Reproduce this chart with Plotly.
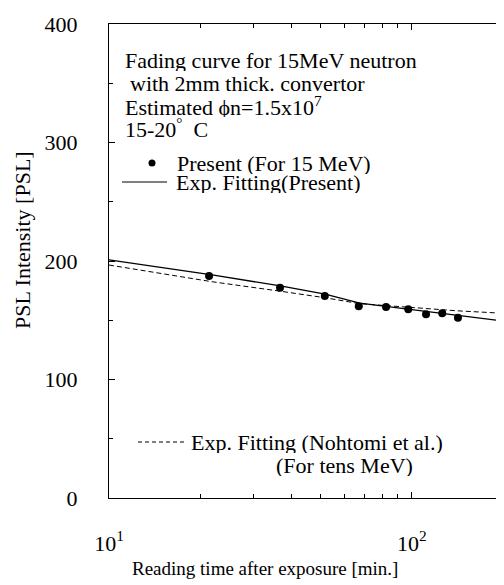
import math
import plotly.graph_objects as go

# ---- data ----
time_pts = [21.4, 36.7, 51.6, 66.8, 82.2, 97.3, 111.4, 126, 142]
psl_pts = [187.3, 177.5, 170.5, 161.8, 161.2, 159.2, 155.0, 155.9, 152.2]

fit_time = [10, 21.9, 36.8, 51.7, 67.3, 97.2, 140.6, 200]
fit_present = [201.0, 188.3, 179.0, 172.0, 164.5, 159.5, 154.4, 149.4]
fit_nohtomi = [196.6, 182.5, 174.5, 169.0, 164.0, 160.8, 158.0, 155.9]

y_ticks = [0, 100, 200, 300, 400]
x_ticks = [10, 100]
x_ticklabels = ["10<sup>1</sup>", "10<sup>2</sup>"]

FONT = "Liberation Serif"
FS = 22
OFF = 8                      # page body margin
PAGE_W, PAGE_H = 504, 585
W, H = PAGE_W - OFF, PAGE_H - OFF
L, R, T, B = 109, 503, 24, 498   # plot area in page pixels

def px(X):
    return (X - L) / (R - L)

def py(Y):
    return (B - Y) / (B - T)

fig = go.Figure()
fig.add_trace(go.Scatter(x=fit_time, y=fit_nohtomi, mode="lines",
                         line=dict(color="black", width=1, dash="5px,3px"),
                         showlegend=False))
fig.add_trace(go.Scatter(x=fit_time, y=fit_present, mode="lines",
                         line=dict(color="black", width=1.4),
                         showlegend=False))
fig.add_trace(go.Scatter(x=time_pts, y=psl_pts, mode="markers",
                         marker=dict(color="black", size=8),
                         showlegend=False))

axis_common = dict(showline=True, linecolor="black", linewidth=1.2, mirror="ticks",
                   ticks="inside", tickcolor="black", ticklen=6, showgrid=False,
                   zeroline=False, tickfont=dict(family=FONT, size=FS, color="black"))

fig.update_xaxes(type="log", range=[1, math.log10(200)],
                 tickvals=x_ticks, ticktext=x_ticklabels,
                 ticklabelstandoff=25,
                 minor=dict(ticks="inside", ticklen=4, tickcolor="black",
                            tickvals=[20, 30, 40, 50, 60, 70, 80, 90, 200]),
                 **axis_common)
fig.update_yaxes(range=[0, 400], tickvals=y_ticks,
                 ticklabelstandoff=26,
                 minor=dict(ticks="inside", ticklen=4, tickcolor="black", dtick=50),
                 **axis_common)

ann = []
def text(X, Y, s, anchor="left", angle=0, size=FS, h=None):
    a = dict(x=px(X), y=py(Y), xref="paper", yref="paper", text=s,
             showarrow=False, xanchor=anchor, yanchor="middle", textangle=angle,
             borderpad=0, font=dict(family=FONT, size=size, color="black"))
    if h is not None:
        a["height"] = h
    ann.append(a)

text(124, 60, "Fading curve for 15MeV neutron", h=22)
text(129, 83, "with 2mm thick. convertor", h=22)
text(124, 106, "Estimated \u03d5n=1.5x10<sup>7</sup>", h=22)
text(124, 128, "15-20<sup>\u00b0</sup>  C", h=22)
text(176, 163, "Present (For 15 MeV)", h=22)
text(175, 182, "Exp. Fitting(Present)", h=22)
text(190, 442, "Exp. Fitting (Nohtomi et al.)", h=22)
text(275, 465, "(For tens MeV)", h=22)

# axis titles
text(265, 568, "Reading time after exposure [min.]", anchor="center", size=19)
text(22, 240, "PSL Intensity [PSL]", anchor="center", angle=-90)

shapes = [
    dict(type="line", xref="paper", yref="paper", x0=px(122), x1=px(167), y0=py(182), y1=py(182),
         line=dict(color="black", width=1.2)),
    dict(type="line", xref="paper", yref="paper", x0=px(138), x1=px(185), y0=py(442), y1=py(442),
         line=dict(color="black", width=1, dash="4px,3px")),
    dict(type="circle", xref="paper", yref="paper", x0=px(148.5), x1=px(155.5), y0=py(166.5), y1=py(159.5),
         fillcolor="black", line=dict(color="black", width=0)),
]

fig.update_layout(width=W, height=H,
                  margin=dict(l=L - OFF, r=PAGE_W - R, t=T - OFF, b=PAGE_H - B),
                  plot_bgcolor="white", paper_bgcolor="white",
                  annotations=ann, shapes=shapes, showlegend=False)

fig.write_html("out.html")
